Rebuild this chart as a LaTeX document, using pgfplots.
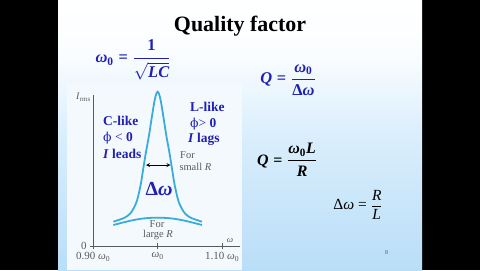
\documentclass[border=0pt]{standalone}
\usepackage{pgfplots}
\pgfplotsset{compat=1.18}
\usepackage{amsmath}
\usepackage{fontspec}
\setmainfont{Liberation Serif}
\newfontfamily\dvs{DejaVu Serif}
\definecolor{tblue}{RGB}{32,32,180}
\definecolor{curve}{RGB}{58,172,218}
\definecolor{axgray}{RGB}{90,90,90}
\definecolor{bgbot}{RGB}{185,222,248}
\definecolor{bgmid}{RGB}{218,238,252}
\definecolor{bgtop}{RGB}{250,253,255}
\definecolor{chartbg}{RGB}{244,249,253}
\pgfdeclareverticalshading{slidebg}{100bp}{color(0bp)=(bgbot); color(25bp)=(bgbot); color(50bp)=(bgmid); color(65bp)=(bgtop); color(75bp)=(white); color(100bp)=(white)}
\newcommand\bi[1]{\text{\bfseries\itshape #1}}
\newcommand\bz{\text{\bfseries 0}}
\begin{document}
\begin{tikzpicture}[x=1bp,y=1bp]
\fill[black] (0,0) rectangle (480,270);
\shade[shading=slidebg] (58,0) rectangle (422,270);
\fill[chartbg] (67,0) rectangle (242,186);
% title
\node[anchor=base, font=\fontsize{22}{26}\selectfont\bfseries, inner sep=0] at (240,238.3) {Quality factor};
% equations
\node[inner sep=0, text=tblue, font=\fontsize{16.5}{20}\selectfont] at (133,210)
  {$\bi{ω}_{\bz}\mathrel{\text{\bfseries =}}\genfrac{}{}{1.1pt}{0}{\text{\bfseries 1}}{\sqrt{\bi{LC}}}$};
\node[inner sep=0, text=tblue, font=\fontsize{16.5}{20}\selectfont] at (288,190)
  {$\bi{Q}\mathrel{\text{\bfseries =}}\genfrac{}{}{1.1pt}{0}{\bi{ω}_{\bz}}{\text{\bfseries Δ}\bi{ω}}$};
\node[inner sep=0, text=black, font=\fontsize{16}{20}\selectfont] at (287,110)
  {$\bi{Q}\mathrel{\text{\bfseries =}}\genfrac{}{}{1.0pt}{0}{\bi{ω}_{\bz}\bi{L}}{\bi{R}}$};
\node[inner sep=0, text=black, font=\fontsize{15.5}{19}\selectfont] at (358,65)
  {$\text{Δ}\text{\itshape ω}\mathrel{\text{=}}\genfrac{}{}{0.6pt}{0}{\text{\itshape R}}{\text{\itshape L}}$};
\node[font=\fontsize{6}{7}\selectfont, text=axgray] at (386.7,17.3) {8};
% chart
\begin{axis}[at={(144.5,24)}, anchor=south west, scale only axis,
  width=147bp, height=151bp,
  xmin=0.9, xmax=1.128, ymin=0, ymax=151,
  axis x line=bottom, axis y line=left,
  axis line style={-, draw=axgray, line width=0.6bp},
  xtick={0.9,1,1.1},
  xticklabels={0.90 \textit{ω}\textsubscript{0}, \textit{ω}\textsubscript{0}, 1.10 \textit{ω}\textsubscript{0}},
  ytick={0}, yticklabels={0},
  tick align=center, major tick length=6bp,
  tick style={axgray, line width=0.6bp},
  ticklabel style={font=\fontsize{11}{12}\selectfont, text=axgray},
  clip=false]
\addplot[curve, line width=1.8bp, smooth] table {
x y
0.9313 24.3
0.9468 27.7
0.9540 30.5
0.9597 34.3
0.9674 44.3
0.9736 61.0
0.9778 77.7
0.9820 94.3
0.9867 111.0
0.9907 127.7
0.9949 144.3
0.9978 152.0
1.0000 154.3
1.0022 152.0
1.0051 144.3
1.0093 127.7
1.0133 111.0
1.0180 94.3
1.0222 77.7
1.0264 61.0
1.0326 44.3
1.0403 34.3
1.0460 30.5
1.0532 27.7
1.0687 24.3
};
\addplot[curve, line width=1.8bp, smooth] table {
x y
0.9313 21.0
0.9450 23.3
0.9600 25.6
0.9750 27.3
0.9880 28.1
1.0000 28.3
1.0120 28.1
1.0250 27.3
1.0400 25.6
1.0550 23.3
1.0687 21.0
};
\end{axis}
% chart annotations
\node[anchor=north east, inner sep=0, text=axgray, font=\fontsize{10}{12}\selectfont] at (91,177) {\textit{I}\textsubscript{rms}};
\node[inner sep=0, text=axgray, font=\fontsize{9}{11}\selectfont] at (230,29.5) {\textit{ω}};
\begin{scope}[every node/.style={anchor=base west, inner sep=0, text=tblue, font=\fontsize{13.5}{16}\selectfont\bfseries}]
\node at (103,145) {C-like};
\node at (103,128.5) {{\dvs\mdseries\fontsize{12.5}{15}\selectfont ϕ} {\mdseries<} 0};
\node at (103,112) {\textit{I} leads};
\node at (190,158.5) {L-like};
\node at (190,143) {{\dvs\mdseries\fontsize{12.5}{15}\selectfont ϕ}{\mdseries>} 0};
\node at (188,127.5) {\textit{I} lags};
\end{scope}
\begin{scope}[every node/.style={inner sep=0, text=axgray, font=\fontsize{10.5}{12}\selectfont}]
\node[anchor=base west] at (180,111.7) {For};
\node[anchor=base west] at (179.3,100) {small \textit{R}};
\node[anchor=base] at (157,42.5) {For};
\node[anchor=base] at (158,33) {large \textit{R}};
\end{scope}
\node[inner sep=0, text=tblue, font=\fontsize{20}{24}\selectfont\bfseries] at (159,81) {Δ\textit{ω}};
\draw[<->, >=stealth, line width=0.8bp] (146,105) -- (170.5,105);
\end{tikzpicture}
\end{document}
